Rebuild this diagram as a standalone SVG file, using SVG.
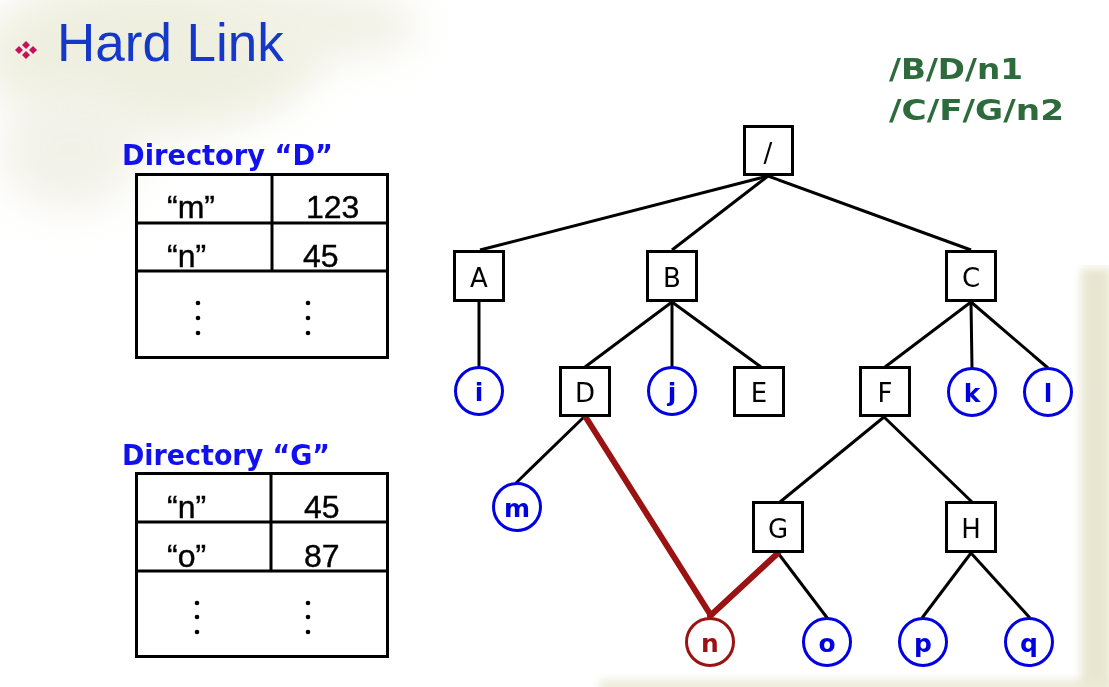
<svg xmlns="http://www.w3.org/2000/svg" width="1109" height="687" viewBox="0 0 1109 687">
<defs>
<filter id="blur" x="-50%" y="-50%" width="200%" height="200%"><feGaussianBlur stdDeviation="20"/></filter>
<filter id="blur2" x="-50%" y="-50%" width="200%" height="200%"><feGaussianBlur stdDeviation="5"/></filter>
<style>
.box{fill:#fff;stroke:#000;stroke-width:3}
.leaf{fill:#fff;stroke:#0000e0;stroke-width:3}
.edge{stroke:#000;stroke-width:3;fill:none}
.link{stroke:#9b1212;stroke-width:6;fill:none;stroke-linecap:round}
.lbl{font-family:"DejaVu Sans",sans-serif;font-size:26px;text-anchor:middle;fill:#000}
.llbl{font-family:"DejaVu Sans",sans-serif;font-size:25px;font-weight:bold;text-anchor:middle;fill:#0000e0}
.tbl{fill:none;stroke:#000;stroke-width:3}
.cell{font-family:"Liberation Sans",Arial,sans-serif;font-size:32px;fill:#000;stroke:#000;stroke-width:0.4}
.dirt{font-family:"DejaVu Sans",sans-serif;font-size:28px;font-weight:bold;fill:#1010f0}
.path{font-family:"DejaVu Sans",sans-serif;font-size:28px;font-weight:bold;fill:#2d6b3c}
</style>
</defs>
<rect width="1109" height="687" fill="#fff"/>
<!-- background texture -->
<g opacity="0.4">
<ellipse cx="150" cy="55" rx="170" ry="80" fill="#d8d8b4" filter="url(#blur)"/>
<ellipse cx="320" cy="25" rx="100" ry="35" fill="#dedcc0" filter="url(#blur)"/>
<ellipse cx="70" cy="150" rx="70" ry="60" fill="#e0dec8" filter="url(#blur)"/>
</g>
<g opacity="0.7">
<rect x="1081" y="268" width="30" height="422" fill="#dedcbc" filter="url(#blur2)"/>
<rect x="600" y="680" width="509" height="12" fill="#e2e0c4" filter="url(#blur2)"/>
</g>
<rect x="1079" y="180" width="30" height="85" fill="#fff"/>
<!-- title -->
<g id="title">
<g fill="#c8105a">
<path d="M26,41 L30,45 L26,49 L22,45 Z"/>
<path d="M19,46 L23,50 L19,54 L15,50 Z"/>
<path d="M33,46 L37,50 L33,54 L29,50 Z"/>
<path d="M26,51 L30,55 L26,59 L22,55 Z"/>
</g>
<text x="57" y="61" font-family="'Liberation Sans',Arial,sans-serif" font-size="53" fill="#1438c8">Hard Link</text>
</g>
<!-- paths -->
<g id="paths">
<text class="path" x="889" y="79" textLength="134" lengthAdjust="spacingAndGlyphs">/B/D/n1</text>
<text class="path" x="889" y="120" textLength="175" lengthAdjust="spacingAndGlyphs">/C/F/G/n2</text>
</g>
<!-- Directory D table -->
<g id="dirD">
<text class="dirt" x="122" y="165" textLength="211" lengthAdjust="spacingAndGlyphs">Directory “D”</text>
<rect class="tbl" x="136.5" y="174.5" width="251" height="183"/>
<line class="tbl" x1="136" y1="223" x2="388" y2="223"/>
<line class="tbl" x1="136" y1="271" x2="388" y2="271"/>
<line class="tbl" x1="272" y1="174" x2="272" y2="272"/>
<text class="cell" x="167" y="218">“m”</text>
<text class="cell" x="306" y="218">123</text>
<text class="cell" x="167" y="267">“n”</text>
<text class="cell" x="303" y="267">45</text>
<g fill="#000"><circle cx="198" cy="303" r="2.3"/><circle cx="198" cy="318" r="2.3"/><circle cx="198" cy="333" r="2.3"/>
<circle cx="308" cy="303" r="2.3"/><circle cx="308" cy="318" r="2.3"/><circle cx="308" cy="333" r="2.3"/></g>
</g>
<!-- Directory G table -->
<g id="dirG">
<text class="dirt" x="122" y="465" textLength="208" lengthAdjust="spacingAndGlyphs">Directory “G”</text>
<rect class="tbl" x="136.5" y="473.5" width="251" height="183"/>
<line class="tbl" x1="136" y1="522" x2="388" y2="522"/>
<line class="tbl" x1="136" y1="571" x2="388" y2="571"/>
<line class="tbl" x1="271" y1="473" x2="271" y2="572"/>
<text class="cell" x="167" y="518">“n”</text>
<text class="cell" x="304" y="518">45</text>
<text class="cell" x="167" y="567">“o”</text>
<text class="cell" x="304" y="567">87</text>
<g fill="#000"><circle cx="197" cy="603" r="2.3"/><circle cx="197" cy="617" r="2.3"/><circle cx="197" cy="632" r="2.3"/>
<circle cx="308" cy="603" r="2.3"/><circle cx="308" cy="617" r="2.3"/><circle cx="308" cy="632" r="2.3"/></g>
</g>
<!-- connectors -->
<g id="connectors">
<line class="edge" x1="768" y1="176" x2="480" y2="250"/>
<line class="edge" x1="768" y1="176" x2="672" y2="250"/>
<line class="edge" x1="768" y1="176" x2="971" y2="250"/>
<line class="edge" x1="479" y1="302" x2="479" y2="367"/>
<line class="edge" x1="672" y1="302" x2="585" y2="367"/>
<line class="edge" x1="672" y1="302" x2="672" y2="367"/>
<line class="edge" x1="672" y1="302" x2="761" y2="367"/>
<line class="edge" x1="971" y1="302" x2="885" y2="367"/>
<line class="edge" x1="971" y1="302" x2="972" y2="368"/>
<line class="edge" x1="971" y1="302" x2="1048" y2="368"/>
<line class="edge" x1="585" y1="416" x2="516" y2="483"/>
<line class="edge" x1="884" y1="417" x2="780" y2="502"/>
<line class="edge" x1="884" y1="417" x2="972" y2="502"/>
<line class="edge" x1="778" y1="553" x2="828" y2="619"/>
<line class="edge" x1="971" y1="553" x2="922" y2="618"/>
<line class="edge" x1="971" y1="553" x2="1030" y2="618"/>
<line class="link" x1="585" y1="416" x2="710" y2="614"/>
<line class="link" x1="778" y1="553" x2="710" y2="616"/>
</g>
<!-- nodes -->
<g id="node-root"><rect class="box" x="744.5" y="126.5" width="48" height="48"/><text class="lbl" x="768" y="162">/</text></g>
<g id="node-A"><rect class="box" x="454.5" y="251.5" width="49" height="49"/><text class="lbl" x="479" y="287">A</text></g>
<g id="node-B"><rect class="box" x="647.5" y="251.5" width="49" height="49"/><text class="lbl" x="672" y="287">B</text></g>
<g id="node-C"><rect class="box" x="946.5" y="251.5" width="49" height="49"/><text class="lbl" x="971" y="287">C</text></g>
<g id="node-i"><circle class="leaf" cx="479" cy="391" r="23.5"/><text class="llbl" x="479" y="401">i</text></g>
<g id="node-D"><rect class="box" x="560.5" y="367.5" width="49" height="48"/><text class="lbl" x="585" y="402">D</text></g>
<g id="node-j"><circle class="leaf" cx="672" cy="391" r="23.5"/><text class="llbl" x="672" y="401">j</text></g>
<g id="node-E"><rect class="box" x="734.5" y="367.5" width="49" height="48"/><text class="lbl" x="759" y="402">E</text></g>
<g id="node-F"><rect class="box" x="860.5" y="367.5" width="49" height="48"/><text class="lbl" x="885" y="402">F</text></g>
<g id="node-k"><circle class="leaf" cx="972" cy="392" r="23.5"/><text class="llbl" x="972" y="402">k</text></g>
<g id="node-l"><circle class="leaf" cx="1048" cy="392" r="23.5"/><text class="llbl" x="1048" y="402">l</text></g>
<g id="node-m"><circle class="leaf" cx="517" cy="507" r="23.5"/><text class="llbl" x="517" y="517">m</text></g>
<g id="node-G"><rect class="box" x="753.5" y="502.5" width="49" height="49"/><text class="lbl" x="778" y="538">G</text></g>
<g id="node-H"><rect class="box" x="946.5" y="502.5" width="49" height="49"/><text class="lbl" x="971" y="538">H</text></g>
<g id="node-n"><circle cx="710" cy="642" r="23.5" fill="#fff" stroke="#9b1212" stroke-width="3"/><text class="llbl" x="710" y="652" style="fill:#9b1212">n</text></g>
<g id="node-o"><circle class="leaf" cx="827" cy="642" r="23.5"/><text class="llbl" x="827" y="652">o</text></g>
<g id="node-p"><circle class="leaf" cx="923" cy="642" r="23.5"/><text class="llbl" x="923" y="652">p</text></g>
<g id="node-q"><circle class="leaf" cx="1029" cy="642" r="23.5"/><text class="llbl" x="1029" y="652">q</text></g>
</svg>
